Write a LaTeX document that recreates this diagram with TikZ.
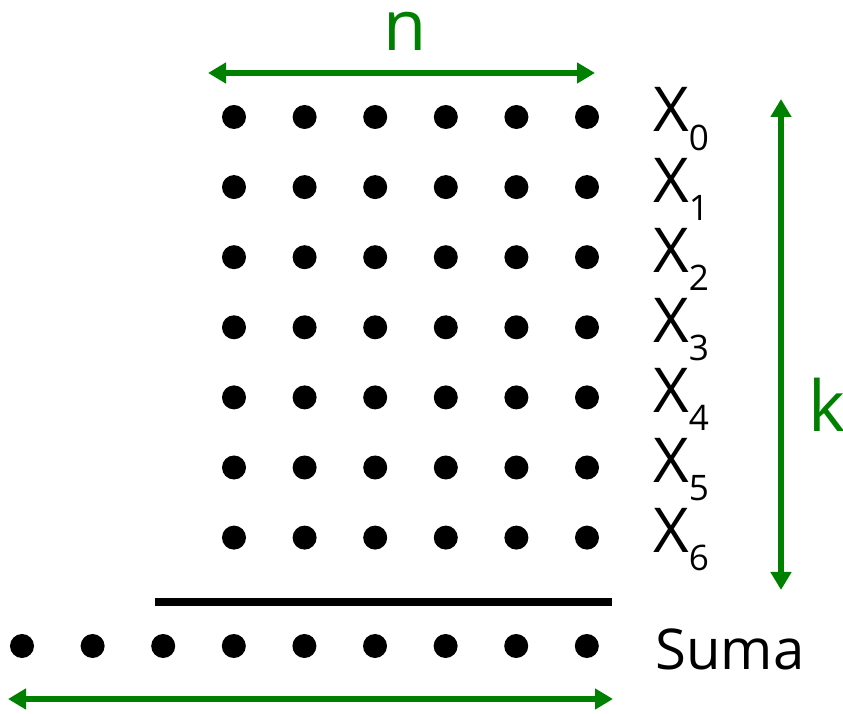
\documentclass[tikz,border=0pt]{standalone}
\usepackage{fontspec}
\setmainfont{Open Sans}
\usetikzlibrary{arrows.meta}
\newcommand\xsub[1]{X\raisebox{-13pt}{\fontsize{25}{28}\selectfont #1}}

\begin{document}
\begin{tikzpicture}[x=0.025cm,y=-0.025cm,
  dot/.style={circle,fill=black,inner sep=0pt,minimum size=0.6cm},
  span/.style={{Triangle[width=0.5cm,length=0.45cm]}-{Triangle[width=0.5cm,length=0.45cm]},draw=green!50!black,line width=0.15cm},
  rule/.style={draw=black,line width=0.175cm},
  rowlabel/.style={anchor=base west,inner sep=0pt,font=\fontsize{44}{48}\selectfont},
  count/.style={anchor=base,inner sep=0pt,font=\fontsize{50}{56}\selectfont,text=green!50!black},
]
\useasboundingbox (0,0) rectangle (843,714);
% grid of terms, one row per X
\foreach \r in {0,...,6} {
  \foreach \c in {0,...,5}
    \node[dot] (d-\r-\c) at (234+70.6*\c,117+70.1*\r) {};
  \node[rowlabel] (x-\r) at (653,132+70.1*\r) {\xsub{\r}};
}
% sum row
\foreach \c in {0,...,8}
  \node[dot] (s-\c) at (22+70.6*\c,646) {};
\node[rowlabel,font=\fontsize{40}{44}\selectfont] (suma) at (655,669) {Suma};
\coordinate (rule-l) at (155,602);
\coordinate (rule-r) at (612,602);
\draw[rule] (rule-l) -- (rule-r);
% dimensions
\coordinate (n-l) at (208,73);
\coordinate (n-r) at (595,73);
\coordinate (k-t) at (781,99);
\coordinate (k-b) at (781,590);
\coordinate (s-l) at (8,699);
\coordinate (s-r) at (613,699);
\draw[span] (n-l) -- (n-r);
\draw[span] (k-t) -- (k-b);
\draw[span] (s-l) -- (s-r);
\node[count] (n) at (405,51) {n};
\node[count,anchor=base west] (k) at (808,432) {k};
\end{tikzpicture}
\end{document}
